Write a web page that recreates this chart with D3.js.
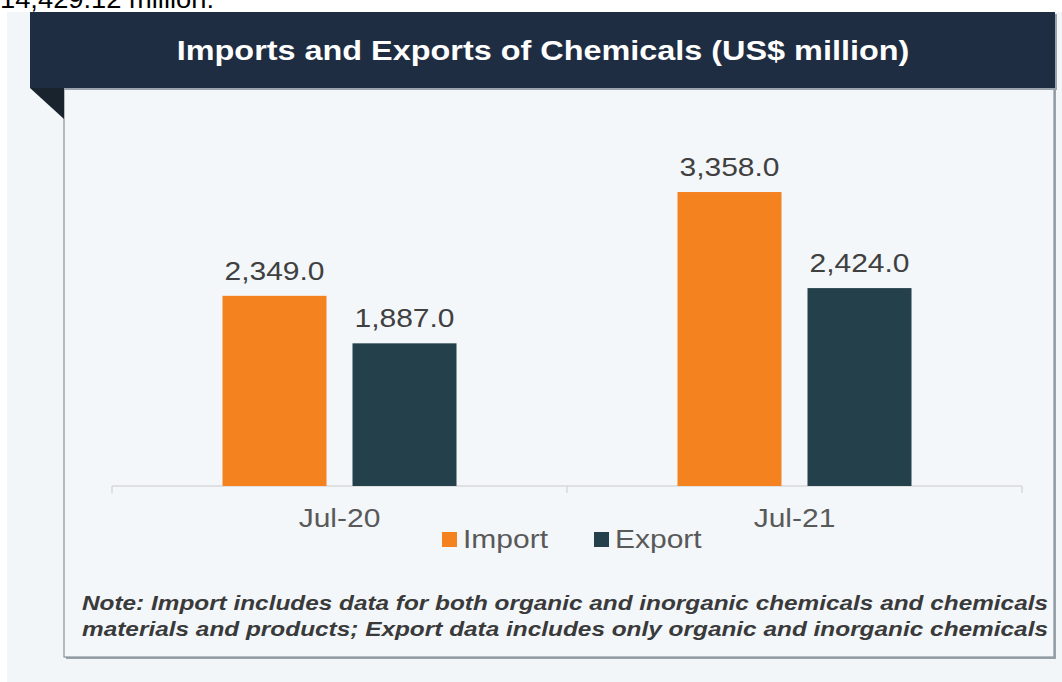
<!DOCTYPE html>
<html>
<head>
<meta charset="utf-8">
<script src="https://cdn.jsdelivr.net/npm/d3@7"></script>
<style>
  body { margin: 0; padding: 0; background: #ffffff; }
  svg { display: block; }
  text { font-family: "Liberation Sans", Arial, sans-serif; }
</style>
</head>
<body>
<div id="vis"></div>
<script>
var w = 1062;
var h = 682;

// data
var periods = ["Jul-20", "Jul-21"];
var seriesNames = ["Import", "Export"];
var importValues = [2349.0, 3358.0];
var exportValues = [1887.0, 2424.0];
var seriesColors = ["#f4821f", "#24404a"];

var titleText = "Imports and Exports of Chemicals (US$ million)";
var noteLines = [
	"Note: Import includes data for both organic and inorganic chemicals and chemicals",
	"materials and products; Export data includes only organic and inorganic chemicals"
];

// horizontal stretch of the source picture
var sx = 1.2;

var svg = d3.select("#vis")
	.append("svg")
	.attr("width", w)
	.attr("height", h);

// page background
svg.append("rect")
	.attr("x", 7).attr("y", 12)
	.attr("width", w - 7).attr("height", h - 12)
	.attr("fill", "#f3f6f8");

// cut-off text from the page above
svg.append("text")
	.text("14,429.12 million.")
	.attr("x", 0)
	.attr("y", 8)
	.attr("fill", "#000")
	.style("font-size", "25px")
	.attr("textLength", 214)
	.attr("lengthAdjust", "spacingAndGlyphs");

// panel
svg.append("rect")
	.attr("x", 66).attr("y", 90)
	.attr("width", 990).attr("height", 569)
	.attr("fill", "#9aa3ab");
svg.append("rect")
	.attr("x", 64).attr("y", 88)
	.attr("width", 990).attr("height", 569)
	.attr("fill", "#f3f7fa")
	.attr("stroke", "#8a949c")
	.attr("stroke-width", 1.2);

// banner + fold
svg.append("rect")
	.attr("x", 32).attr("y", 14)
	.attr("width", 1025).attr("height", 76)
	.attr("fill", "#9aa3ab");
svg.append("rect")
	.attr("x", 30).attr("y", 12)
	.attr("width", 1025).attr("height", 76)
	.attr("fill", "#1f2d42");
svg.append("path")
	.attr("d", "M30,88 L64,88 L64,119 Z")
	.attr("fill", "#18232e");

svg.append("text")
	.text(titleText)
	.attr("transform", "translate(543,60) scale(" + sx + ",1)")
	.attr("text-anchor", "middle")
	.attr("fill", "#ffffff")
	.style("font-size", "27px")
	.style("font-weight", "bold");

// scales
var x0 = d3.scaleBand()
	.domain(periods)
	.range([112, 1022]);

var x1 = d3.scaleBand()
	.domain(seriesNames)
	.range([0, x0.bandwidth()])
	.paddingInner(0.2)
	.paddingOuter(0.85);

var y = d3.scaleLinear()
	.domain([500, 4000])
	.range([486, 126]);

var color = d3.scaleOrdinal()
	.domain(seriesNames)
	.range(seriesColors);

var fmt = d3.format(",.1f");

var rows = periods.map(function(p, i) {
	return {period: p, values: [
		{name: "Import", value: importValues[i]},
		{name: "Export", value: exportValues[i]}
	]};
});

// axis
var xAxis = svg.append("g")
	.attr("transform", "translate(0,486)")
	.call(d3.axisBottom(x0).tickSize(0).tickFormat(""));
xAxis.select(".domain").remove();
xAxis.append("line")
	.attr("x1", 112).attr("x2", 1022)
	.attr("y1", 0).attr("y2", 0)
	.attr("stroke", "#d9d9d9")
	.attr("stroke-width", 1.5);
// tick marks at band edges
var edges = periods.map(function(p) { return x0(p); }).concat([x0.range()[1]]);
xAxis.selectAll(".edge")
	.data(edges)
	.enter()
	.append("line")
	.attr("class", "edge")
	.attr("x1", function(d) { return d; })
	.attr("x2", function(d) { return d; })
	.attr("y1", 0).attr("y2", 7)
	.attr("stroke", "#d9d9d9")
	.attr("stroke-width", 1.5);

svg.selectAll(".cat")
	.data(periods)
	.enter()
	.append("text")
	.attr("class", "cat")
	.text(function(d) { return d; })
	.attr("transform", function(d) { return "translate(" + (x0(d) + x0.bandwidth() / 2) + ",527) scale(" + sx + ",1)"; })
	.attr("text-anchor", "middle")
	.attr("fill", "#595959")
	.style("font-size", "25px");

// bars
var groups = svg.selectAll(".grp")
	.data(rows)
	.enter()
	.append("g")
	.attr("class", "grp")
	.attr("transform", function(d) { return "translate(" + x0(d.period) + ",0)"; });

groups.selectAll("rect")
	.data(function(d) { return d.values; })
	.enter()
	.append("rect")
	.attr("x", function(d) { return x1(d.name); })
	.attr("y", function(d) { return y(d.value); })
	.attr("width", x1.bandwidth())
	.attr("height", function(d) { return y(500) - y(d.value); })
	.attr("fill", function(d) { return color(d.name); });

groups.selectAll(".val")
	.data(function(d) { return d.values; })
	.enter()
	.append("text")
	.attr("class", "val")
	.text(function(d) { return fmt(d.value); })
	.attr("transform", function(d) { return "translate(" + (x1(d.name) + x1.bandwidth() / 2) + "," + (y(d.value) - 16) + ") scale(" + sx + ",1)"; })
	.attr("text-anchor", "middle")
	.attr("fill", "#404040")
	.style("font-size", "25px");

// legend
var legendX = [442, 594];
var legend = svg.selectAll(".leg")
	.data(seriesNames)
	.enter()
	.append("g")
	.attr("class", "leg")
	.attr("transform", function(d, i) { return "translate(" + legendX[i] + ",532)"; });
legend.append("rect")
	.attr("width", 15).attr("height", 15)
	.attr("fill", function(d) { return color(d); });
legend.append("text")
	.text(function(d) { return d; })
	.attr("transform", "translate(21,16) scale(" + sx + ",1)")
	.attr("fill", "#595959")
	.style("font-size", "25px");

// note
svg.selectAll(".note")
	.data(noteLines)
	.enter()
	.append("text")
	.attr("class", "note")
	.text(function(d) { return d; })
	.attr("x", 82)
	.attr("y", function(d, i) { return 610 + i * 26; })
	.attr("fill", "#3a3a3a")
	.style("font-family", "'Liberation Sans Narrow', 'Liberation Sans', Arial, sans-serif")
	.style("font-size", "21px")
	.style("font-weight", "bold")
	.style("font-style", "italic")
	.attr("textLength", 966)
	.attr("lengthAdjust", "spacingAndGlyphs");
</script>
</body>
</html>
